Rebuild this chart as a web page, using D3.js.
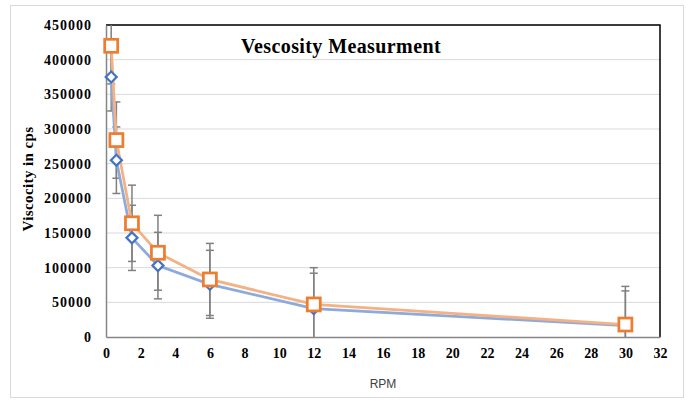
<!DOCTYPE html>
<html>
<head>
  <meta charset="UTF-8">
  <style>
    body { margin: 0; background: #fff; }
    text { font-family: "Liberation Serif", "Times New Roman", serif; }
  </style>
</head>
<body>
  <svg></svg>
<script src="https://d3js.org/d3.v7.min.js"></script>
<script>

    let width = 686;
    let height = 404;

    // RPM readings and viscosity (cps) for the two series
    let rpm = [0.3, 0.6, 1.5, 3, 6, 12, 30];
    let blueValues = [375000, 255000, 143000, 103000, 76000, 41000, 16500];
    let blueErrors = [49000, 48000, 47000, 48000, 49000, 51000, 50000];
    let orangeValues = [420000, 284000, 164000, 121500, 83000, 47000, 18000];
    let orangeErrors = [55000, 55000, 55000, 54000, 52000, 53000, 55000];

    let xTicks = d3.range(0, 33, 2);
    let yTicks = d3.range(0, 450001, 50000);

    let margin = {left: 106, right: 26, top: 25, bottom: 67};
    let serif = "'Liberation Serif', 'Times New Roman', serif";

    let svg = d3.select("svg")
        .attr("width", width)
        .attr("height", height);

    // outer chart frame
    svg.append("rect")
      .attr("x", 10.5).attr("y", 5.5)
      .attr("width", 673).attr("height", 392)
      .attr("fill", "white")
      .attr("stroke", "#d9d9d9");

    let x = d3.scaleLinear()
      .domain([0, 32])
      .range([margin.left, width - margin.right]);

    let y = d3.scaleLinear()
      .domain([0, 450000])
      .range([height - margin.bottom, margin.top]);

    // gridlines
    svg.append("g")
      .selectAll("line")
      .data(yTicks.slice(1))
      .enter()
      .append("line")
        .attr("x1", x(0)).attr("x2", x(32))
        .attr("y1", d => y(d)).attr("y2", d => y(d))
        .attr("stroke", "#d9d9d9")
        .attr("stroke-width", 1);

    // top + right border in black
    svg.append("path")
      .attr("d", "M" + x(0) + "," + y(450000) + "H" + x(32) + "V" + y(0))
      .attr("fill", "none")
      .attr("stroke", "black")
      .attr("stroke-width", 1.5);

    let xAxis = svg.append("g")
      .attr("transform", "translate(0," + y(0) + ")")
      .attr("font-family", null)
      .call(d3.axisBottom(x).tickValues(xTicks).tickSize(0).tickPadding(11));
    xAxis.select(".domain").attr("stroke", "#868686").attr("stroke-width", 1.5);
    xAxis.selectAll("text")
      .style("font-family", serif)
      .style("font-weight", "bold")
      .style("font-size", "14px")
      .attr("fill", "black");

    let yAxis = svg.append("g")
      .attr("transform", "translate(" + x(0) + ",0)")
      .call(d3.axisLeft(y).tickValues(yTicks).tickSize(0).tickPadding(14).tickFormat(d3.format("d")));
    yAxis.select(".domain").attr("stroke", "#868686").attr("stroke-width", 1.5);
    yAxis.selectAll("text")
      .style("font-family", serif)
      .style("font-weight", "bold")
      .style("font-size", "14px")
      .style("letter-spacing", "1px")
      .attr("fill", "black");

    svg.append("clipPath").attr("id", "plotclip")
      .append("rect")
      .attr("x", x(0)).attr("y", y(450000))
      .attr("width", x(32) - x(0)).attr("height", y(0) - y(450000));

    let series = [
      {name: "blue", values: blueValues, errors: blueErrors, line: "#8eaadb", mark: "#4472c4"},
      {name: "orange", values: orangeValues, errors: orangeErrors, line: "#f4b183", mark: "#ed7d31"}
    ];

    let plot = svg.append("g").attr("clip-path", "url(#plotclip)");

    // error bars
    series.forEach(s => {
      let g = plot.append("g").attr("class", "err-" + s.name);
      let pts = rpm.map((r, i) => ({x: r, v: s.values[i], e: s.errors[i]}));
      g.selectAll("line.bar")
        .data(pts)
        .enter()
        .append("line")
          .attr("class", "bar")
          .attr("x1", d => x(d.x)).attr("x2", d => x(d.x))
          .attr("y1", d => y(d.v + d.e)).attr("y2", d => y(d.v - d.e))
          .attr("stroke", "#808080")
          .attr("stroke-width", 1.5);
      ["top", "bottom"].forEach(side => {
        g.selectAll("line.cap-" + side)
          .data(pts)
          .enter()
          .append("line")
            .attr("x1", d => x(d.x) - 4).attr("x2", d => x(d.x) + 4)
            .attr("y1", d => y(side == "top" ? d.v + d.e : d.v - d.e))
            .attr("y2", d => y(side == "top" ? d.v + d.e : d.v - d.e))
            .attr("stroke", "#808080")
            .attr("stroke-width", 1.5);
      });
    });

    let line = d3.line()
      .x(d => x(d[0]))
      .y(d => y(d[1]));

    series.forEach(s => {
      plot.append("path")
        .datum(rpm.map((r, i) => [r, s.values[i]]))
        .attr("fill", "none")
        .attr("stroke", s.line)
        .attr("stroke-width", 2.75)
        .attr("d", line);
    });

    // markers
    let diamond = d3.symbol().type(d3.symbolSquare).size(60);
    svg.append("g")
      .selectAll("path")
      .data(rpm.map((r, i) => [r, blueValues[i]]))
      .enter()
      .append("path")
        .attr("d", diamond)
        .attr("transform", d => "translate(" + x(d[0]) + "," + y(d[1]) + ") rotate(45)")
        .attr("fill", "white")
        .attr("stroke", "#4472c4")
        .attr("stroke-width", 2.25);

    svg.append("g")
      .selectAll("rect")
      .data(rpm.map((r, i) => [r, orangeValues[i]]))
      .enter()
      .append("rect")
        .attr("x", d => x(d[0]) - 6.5)
        .attr("y", d => y(d[1]) - 6.5)
        .attr("width", 13).attr("height", 13)
        .attr("fill", "white")
        .attr("stroke", "#ed7d31")
        .attr("stroke-width", 2.75);

    // titles
    svg.append("text")
      .attr("x", 341).attr("y", 53)
      .attr("text-anchor", "middle")
      .style("font-family", serif)
      .style("font-weight", "bold")
      .style("font-size", "20px")
      .style("letter-spacing", "0.4px")
      .text("Vescosity Measurment");

    svg.append("text")
      .attr("transform", "translate(33,179) rotate(-90)")
      .attr("text-anchor", "middle")
      .style("font-family", serif)
      .style("font-weight", "bold")
      .style("font-size", "15px")
      .style("letter-spacing", "0.4px")
      .text("Viscocity in cps");

    svg.append("text")
      .attr("x", 383).attr("y", 388)
      .attr("text-anchor", "middle")
      .style("font-family", "'Liberation Sans', Arial, sans-serif")
      .style("font-size", "12px")
      .attr("fill", "#404040")
      .text("RPM");

</script>
</body>
</html>
